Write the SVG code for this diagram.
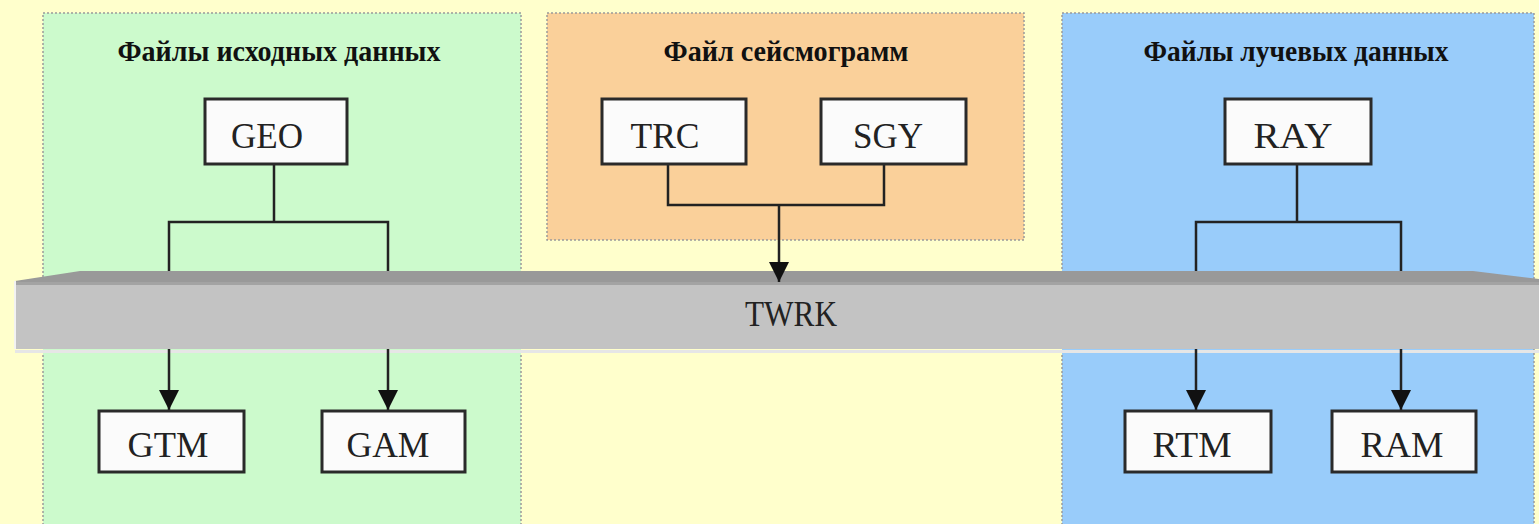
<svg xmlns="http://www.w3.org/2000/svg" width="1539" height="524" viewBox="0 0 1539 524">
<defs>
<style>
.panel{stroke:#9a9a9a;stroke-width:1.5;stroke-dasharray:2,2}
.box{fill:#fbfbfb;stroke:#2a2a2a;stroke-width:3}
.lbl{font-family:"Liberation Serif","Times New Roman",serif;font-size:35px;fill:#222;text-anchor:middle}
.title{font-family:"Liberation Serif","Times New Roman",serif;font-size:30px;font-weight:bold;fill:#111;text-anchor:middle}
.wire{fill:none;stroke:#222;stroke-width:2.5}
</style>
<marker id="arr" markerUnits="userSpaceOnUse" markerWidth="20" markerHeight="20" refX="20" refY="10" orient="auto" viewBox="0 0 20 20">
<path d="M0,0 L20,10 L0,20 z" fill="#111"/>
</marker>
</defs>
<rect width="1539" height="524" fill="#ffffcc"/>
<g id="panel-source">
<rect class="panel" x="43" y="13" width="478" height="512" fill="#ccfacc"/>
<text class="title" x="279" y="61" textLength="323" lengthAdjust="spacingAndGlyphs">Файлы исходных данных</text>
</g>
<g id="panel-seismo">
<rect class="panel" x="547" y="13" width="477" height="227" fill="#fad09a"/>
<text class="title" x="786" y="61" textLength="245" lengthAdjust="spacingAndGlyphs">Файл сейсмограмм</text>
</g>
<g id="panel-ray">
<rect class="panel" x="1062" y="13" width="472" height="512" fill="#99ccfa"/>
<text class="title" x="1296" y="61" textLength="305" lengthAdjust="spacingAndGlyphs">Файлы лучевых данных</text>
</g>
<g id="connectors-behind">
<path class="wire" d="M274,164 V222 M169,272 V222 H388 V272"/>
<path class="wire" d="M1297,164 V222 M1196,272 V222 H1401 V272"/>
</g>
<g id="twrk">
<rect x="15" y="350" width="1524" height="3" fill="#e6e6e6"/>
<polygon points="15,281 80,271 1473,271 1539,279 1539,284 15,284" fill="#999999"/>
<rect x="15" y="282" width="1524" height="3" fill="#a3a3a3"/>
<rect x="15" y="285" width="1524" height="64" fill="#c3c3c3"/>
<line x1="15" y1="281" x2="15" y2="349" stroke="#f2f2f2" stroke-width="2"/>
<text class="lbl" x="791" y="326" textLength="92" lengthAdjust="spacingAndGlyphs">TWRK</text>
</g>
<g id="connectors">
<path class="wire" d="M169,349 V410" marker-end="url(#arr)"/>
<path class="wire" d="M388,349 V410" marker-end="url(#arr)"/>
<path class="wire" d="M1196,349 V410" marker-end="url(#arr)"/>
<path class="wire" d="M1401,349 V410" marker-end="url(#arr)"/>
<path class="wire" d="M668,164 V205 H884 V164"/>
<path class="wire" d="M779,205 V282" marker-end="url(#arr)"/>
</g>
<g id="geo"><rect class="box" x="205" y="99" width="142" height="65"/><text class="lbl" x="267" y="148" textLength="72" lengthAdjust="spacingAndGlyphs">GEO</text></g>
<g id="trc"><rect class="box" x="602" y="99" width="144" height="65"/><text class="lbl" x="665" y="148" textLength="69" lengthAdjust="spacingAndGlyphs">TRC</text></g>
<g id="sgy"><rect class="box" x="821" y="99" width="145" height="65"/><text class="lbl" x="888" y="148" textLength="70" lengthAdjust="spacingAndGlyphs">SGY</text></g>
<g id="ray"><rect class="box" x="1225" y="99" width="146" height="65"/><text class="lbl" x="1293" y="148" textLength="79" lengthAdjust="spacingAndGlyphs">RAY</text></g>
<g id="gtm"><rect class="box" x="99" y="411" width="145" height="61"/><text class="lbl" x="168" y="457" textLength="81" lengthAdjust="spacingAndGlyphs">GTM</text></g>
<g id="gam"><rect class="box" x="322" y="411" width="143" height="61"/><text class="lbl" x="388" y="457" textLength="83" lengthAdjust="spacingAndGlyphs">GAM</text></g>
<g id="rtm"><rect class="box" x="1125" y="411" width="146" height="61"/><text class="lbl" x="1192" y="457" textLength="79" lengthAdjust="spacingAndGlyphs">RTM</text></g>
<g id="ram"><rect class="box" x="1332" y="411" width="144" height="61"/><text class="lbl" x="1402" y="457" textLength="83" lengthAdjust="spacingAndGlyphs">RAM</text></g>
</svg>
